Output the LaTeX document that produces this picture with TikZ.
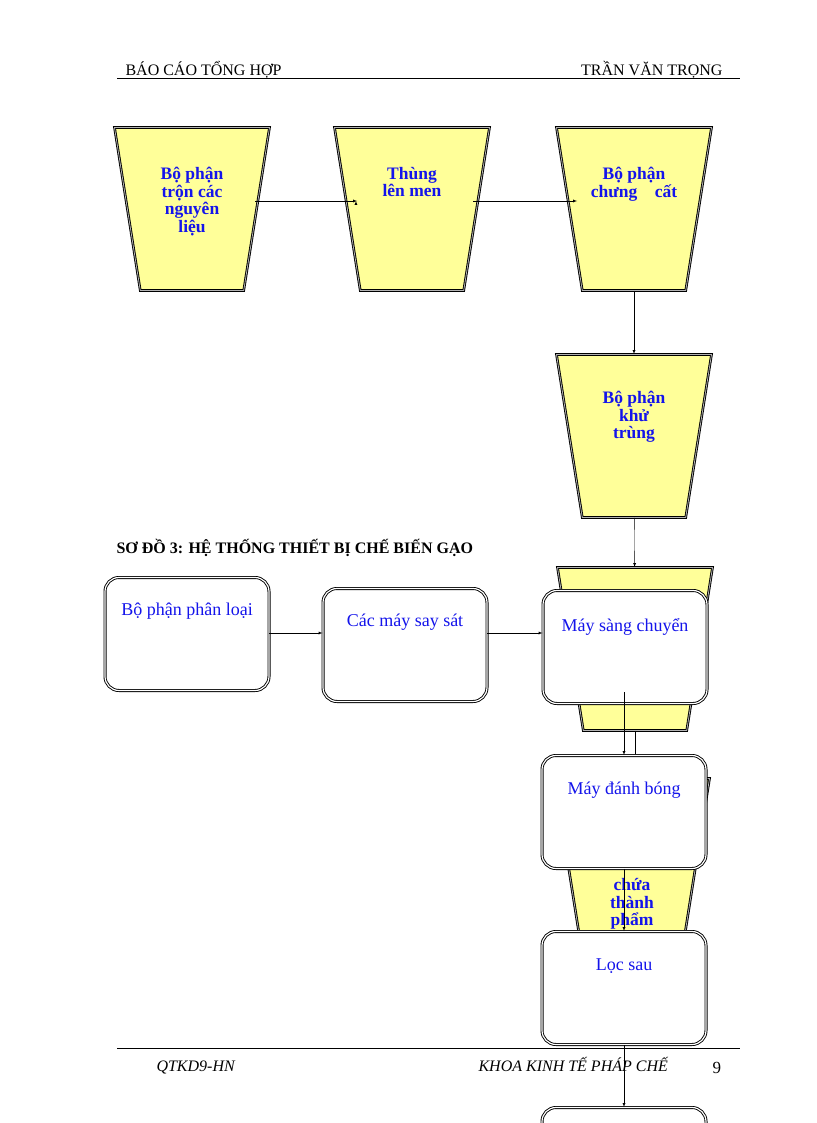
\documentclass[tikz,border=0pt]{standalone}
\usepackage{fontspec}
\setmainfont{Liberation Serif}
\usetikzlibrary{shapes.geometric, arrows, positioning}
\definecolor{paleyellow}{RGB}{255,255,153}
\definecolor{textblue}{RGB}{20,20,235}
\tikzstyle{tank} = [trapezium, trapezium angle=76, trapezium stretches=true, shape border rotate=180, minimum width=155pt, minimum height=163pt, inner sep=2pt, draw=black, line width=0.9pt, double=gray!60, double distance=0.8pt, fill=paleyellow]
\tikzstyle{ttext} = [text=textblue, font=\fontsize{17.5}{17.5}\selectfont\bfseries, align=center, anchor=north, inner sep=0pt]
\tikzstyle{machine} = [rectangle, rounded corners=14pt, minimum width=164pt, minimum height=113pt, draw=black, line width=0.9pt, double=white, double distance=1.2pt, fill=white, inner sep=2pt]
\tikzstyle{mtext} = [text=textblue, font=\fontsize{18}{18}\selectfont, align=center, anchor=north, inner sep=0pt]
\tikzstyle{flow} = [->, >=latex, thin]
\begin{document}
\begin{tikzpicture}[x=1pt, y=-1pt]
  \useasboundingbox (0,0) rectangle (816,1123);

  % header and footer
  \node[anchor=base west, font=\fontsize{16}{16}\selectfont] (head1) at (122,76) {BÁO CÁO TỔNG HỢP};
  \node[anchor=base east, font=\fontsize{16}{16}\selectfont] (head2) at (726,76) {TRẦN VĂN TRỌNG};
  \draw[line width=1pt] (117,79) -- (740,79);
  \draw[line width=0.8pt] (117,1048) -- (740,1048);
  \node[anchor=base west, font=\fontsize{16}{16}\selectfont\itshape] (foot1) at (153,1071) {QTKD9-HN};
  \node[anchor=base west, font=\fontsize{16}{16}\selectfont\itshape] (foot2) at (475,1071) {KHOA KINH TẾ PHÁP CHẾ};
  \node[anchor=base west, font=\fontsize{17}{17}\selectfont] (page) at (709,1073) {9};

  % tanks
  \node[tank, label={[ttext, yshift=-40pt]north:{Bộ phận\\trộn các\\nguyên\\liệu}}] (mix) at (192,209) {};
  \node[tank, label={[ttext, yshift=-40pt]north:{Thùng\\lên men}}] (ferm) at (412,209) {};
  \node[tank, label={[ttext, yshift=-40pt]north:{Bộ phận\\chưng\quad cất}}] (dist) at (634,209) {};
  \node[tank, label={[ttext, yshift=-37pt]north:{Bộ phận\\khử\\trùng}}] (steril) at (634,436) {};
  \node[tank] (filt) at (635,649) {};
  \node[tank, label={[ttext, yshift=-86pt]north:{\phantom{g}\\chứa\\thành\\phẩm}}] (store) at (632,860) {};

  \draw[flow] (mix.center |- 0,201) ++(63,0) -- (ferm.west |- 0,201) ++(9,0);
  \draw[flow] (255,201) -- (357,201);
  \draw[flow] (473,201) -- (577,201);
  \draw[flow] (dist) -- (steril);
  \draw[flow] (steril) -- (filt);

  \node[anchor=base west, font=\fontsize{16}{16}\selectfont\bfseries] (title) at (113,553) {SƠ ĐỒ 3: HỆ THỐNG THIẾT BỊ CHẾ BIẾN GẠO};

  % rice machines
  \node[machine, label={[mtext, yshift=-26pt]north:{Bộ phận phân loại}}] (sort) at (187,634) {};
  \node[machine, label={[mtext, yshift=-26pt]north:{Các máy say sát}}] (mill) at (405,645) {};
  \node[machine, label={[mtext, yshift=-28pt]north:{Máy sàng chuyển}}] (sieve) at (625,647) {};
  \draw (filt.south) -- (filt.south |- 0,756);
  \node[machine, label={[mtext, yshift=-27pt]north:{Máy đánh bóng}}] (polish) at (624,812) {};
  \node[machine, label={[mtext, yshift=-27pt]north:{Lọc sau}}] (clean) at (624,988) {};
  \node[machine] (last) at (624,1164) {};

  \draw[flow] (sort.east |- 0,633) -- (mill.west |- 0,633);
  \draw[flow] (mill.east |- 0,633) -- (sieve.west |- 0,633);
  \draw[flow] (624,692) -- (polish.north);
  \draw[flow] (polish.south) -- (clean.north);
  \draw[flow] (clean.south) -- (last.north);
\end{tikzpicture}
\end{document}
